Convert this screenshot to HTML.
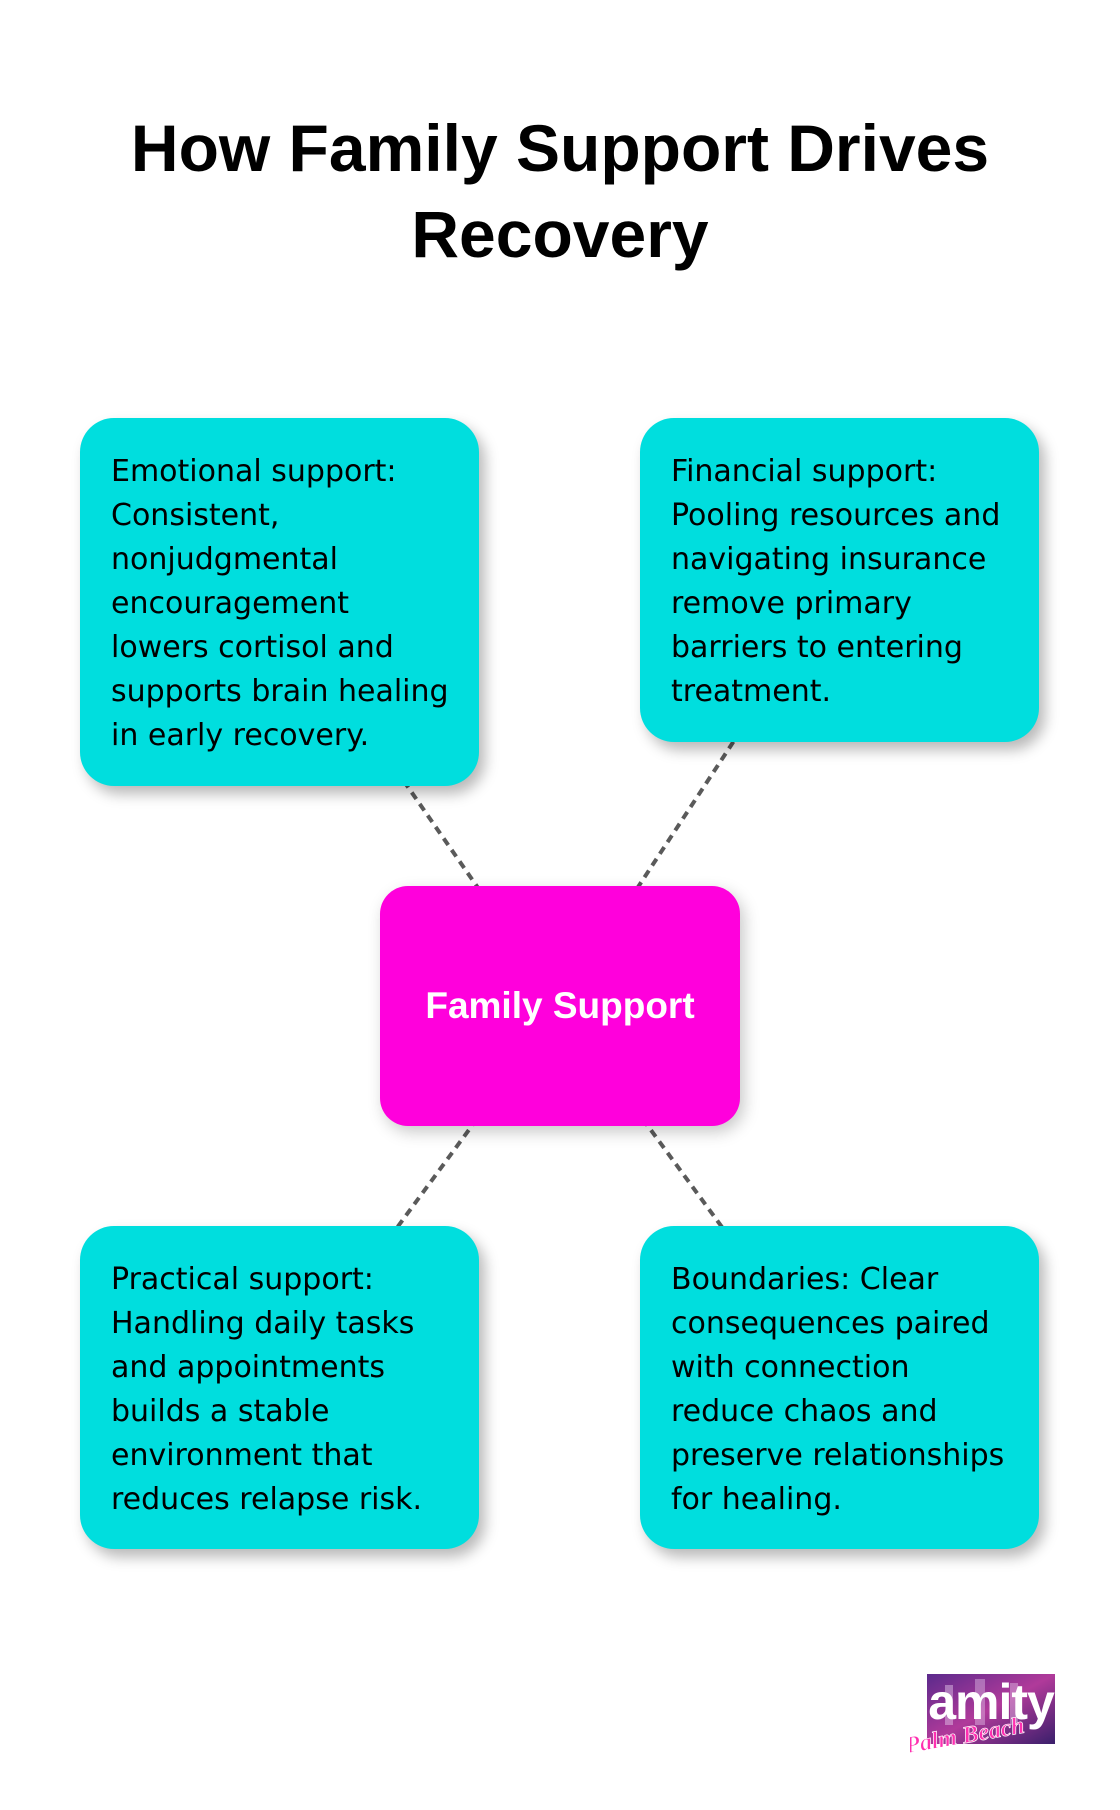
<!DOCTYPE html>
<html>
<head>
<meta charset="utf-8">
<style>
  html, body { margin:0; padding:0; }
  body { width:1120px; height:1810px; background:#ffffff; position:relative; overflow:hidden; }
  .title {
    position:absolute; left:0; top:105px; width:1120px;
    text-align:center; font-family:"Liberation Sans", sans-serif; font-weight:bold;
    font-size:66px; line-height:86px; color:#000;
  }
  svg.lines { position:absolute; left:0; top:0; }
  .card {
    position:absolute; background:#00DEDE; border-radius:34px;
    box-shadow: 6px 8px 14px rgba(0,0,0,0.28);
    box-sizing:border-box;
  }
  .card .txt {
    position:absolute; left:31px; top:32px; white-space:nowrap;
    font-family:"DejaVu Sans", sans-serif; font-size:30px; line-height:44px; color:#000;
  }
  .center {
    position:absolute; left:380px; top:886px; width:360px; height:240px;
    background:#FF00DC; border-radius:28px;
    box-shadow: 4px 6px 16px rgba(0,0,0,0.22);
    display:flex; align-items:center; justify-content:center;
    font-family:"Liberation Sans", sans-serif; font-weight:bold; font-size:37px; color:#fff;
  }
</style>
</head>
<body>
<div class="title">How Family Support Drives<br>Recovery</div>

<svg class="lines" width="1120" height="1810">
  <g stroke="#5a5a5a" stroke-width="4" stroke-dasharray="8 6" fill="none">
    <line x1="560" y1="1006" x2="279.5" y2="602"/>
    <line x1="560" y1="1006" x2="839.5" y2="580"/>
    <line x1="560" y1="1006" x2="279.5" y2="1387.5"/>
    <line x1="560" y1="1006" x2="839.5" y2="1387.5"/>
  </g>
</svg>

<div class="card" style="left:80px; top:418px; width:399px; height:368px;">
  <div class="txt">Emotional support:<br>Consistent,<br>nonjudgmental<br>encouragement<br>lowers cortisol and<br>supports brain healing<br>in early recovery.</div>
</div>

<div class="card" style="left:640px; top:418px; width:399px; height:324px;">
  <div class="txt">Financial support:<br>Pooling resources and<br>navigating insurance<br>remove primary<br>barriers to entering<br>treatment.</div>
</div>

<div class="center">Family Support</div>

<div class="card" style="left:80px; top:1226px; width:399px; height:323px;">
  <div class="txt">Practical support:<br>Handling daily tasks<br>and appointments<br>builds a stable<br>environment that<br>reduces relapse risk.</div>
</div>

<div class="card" style="left:640px; top:1226px; width:399px; height:323px;">
  <div class="txt">Boundaries: Clear<br>consequences paired<br>with connection<br>reduce chaos and<br>preserve relationships<br>for healing.</div>
</div>

<svg style="position:absolute; left:910px; top:1665px;" width="150" height="90" viewBox="0 0 150 90">
  <defs>
    <linearGradient id="lg" x1="0" y1="0" x2="1" y2="1">
      <stop offset="0" stop-color="#5b2a8c"/>
      <stop offset="0.5" stop-color="#b03a9a"/>
      <stop offset="1" stop-color="#3a1f6b"/>
    </linearGradient>
  </defs>
  <rect x="17" y="9" width="128" height="70" fill="url(#lg)"/>
  <rect x="35" y="20" width="8" height="40" fill="#e8d0f0" opacity="0.45"/>
  <rect x="65" y="14" width="10" height="46" fill="#e8d0f0" opacity="0.4"/>
  <rect x="100" y="18" width="8" height="42" fill="#e8d0f0" opacity="0.4"/>
  <text x="81" y="54" text-anchor="middle" font-family="Liberation Sans Narrow, Liberation Sans, sans-serif" font-weight="bold" font-size="50" fill="#ffffff" letter-spacing="-1">amity</text>
  <text x="55" y="78" text-anchor="middle" font-family="Liberation Serif, serif" font-style="italic" font-weight="bold" font-size="24" fill="#ff2fb0" stroke="#ffffff" stroke-width="0.7" transform="rotate(-10 55 72)">Palm Beach</text>
</svg>
</body>
</html>
